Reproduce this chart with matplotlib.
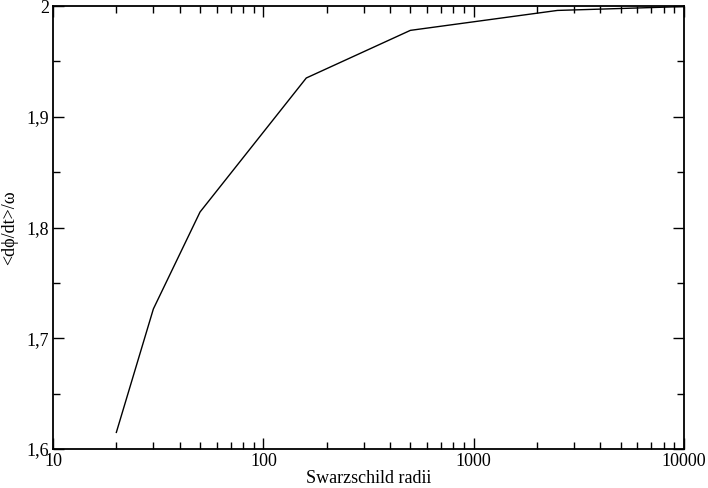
import matplotlib.pyplot as plt
from matplotlib.ticker import FuncFormatter, MultipleLocator, LogLocator

radii = [20, 30, 50, 160, 500, 2500, 10000]
ratio = [1.615, 1.7265, 1.814, 1.935, 1.978, 1.996, 1.9995]

plt.rcParams['font.family'] = ['Liberation Serif', 'DejaVu Serif']
plt.rcParams['font.size'] = 13


def comma_fmt(v, p):
    if abs(v - round(v)) < 1e-9:
        return f"{int(round(v))}"
    return f"{v:.1f}".replace('.', ',')


fig = plt.figure(figsize=(7.08, 4.88), dpi=100)
ax = fig.add_axes([0.0749, 0.0799, 0.8912, 0.9078])
ax.plot(radii, ratio, color='black', linewidth=1)

ax.set_xscale('log')
ax.set_xlim(10, 10000)
ax.set_ylim(1.6, 2.0)
ax.xaxis.set_major_locator(LogLocator(base=10))
ax.xaxis.set_minor_locator(LogLocator(base=10, subs=range(2, 10)))
ax.xaxis.set_major_formatter(FuncFormatter(lambda v, p: f"{v:g}"))
ax.yaxis.set_major_locator(MultipleLocator(0.1))
ax.yaxis.set_minor_locator(MultipleLocator(0.05))
ax.yaxis.set_major_formatter(FuncFormatter(comma_fmt))

ax.tick_params(which='both', direction='in', top=True, right=True, width=1)
ax.tick_params(which='major', length=8, pad=3)
ax.tick_params(which='minor', length=5)
for s in ax.spines.values():
    s.set_linewidth(1.3)

ax.set_xlabel("Swarzschild radii", labelpad=0)
ax.set_ylabel("<dϕ/dt>/ω", labelpad=6)

fig.savefig("out.png", dpi=100)
